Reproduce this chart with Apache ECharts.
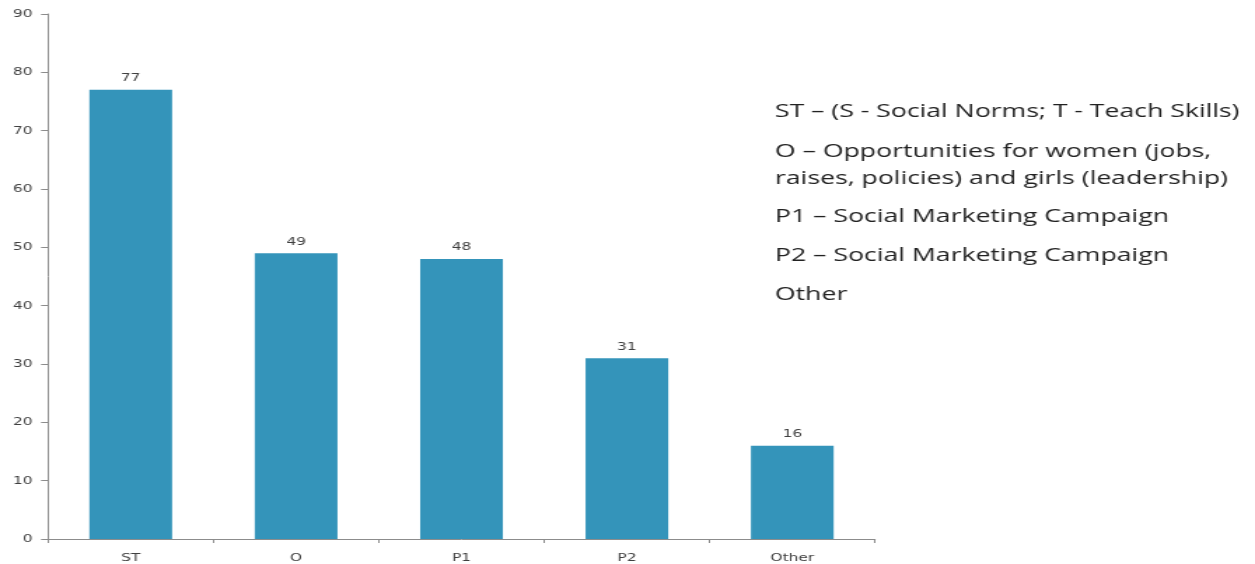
<!DOCTYPE html>
<html><head><meta charset="utf-8">
<script src="https://cdn.jsdelivr.net/npm/echarts@6/dist/echarts.min.js"></script>
<style>
html,body{margin:0;padding:0;background:#fff;overflow:hidden}
#wrap{width:1255px;height:564px;overflow:hidden}
#c{width:896px;height:564px;transform:scaleX(1.40067);transform-origin:0 0}
</style>
</head><body><div id="wrap"><div id="c"></div></div>
<script>
const categories = ['ST', 'O', 'P1', 'P2', 'Other'];
const values = [77, 49, 48, 31, 16];
const legendLines = [
  'ST \u2013 (S - Social Norms; T - Teach Skills)',
  'O \u2013 Opportunities for women (jobs,',
  'raises, policies) and girls (leadership)',
  'P1 \u2013 Social Marketing Campaign',
  'P2 \u2013 Social Marketing Campaign',
  'Other'
];
const legendY = [112, 152, 179, 217, 256, 295];

const chart = echarts.init(document.getElementById('c'));
const lab = {color: '#404040', fontSize: 11, fontFamily: 'DejaVu Sans'};
chart.setOption({
  animation: false,
  grid: {left: 34.3, right: 271.3, top: 14, bottom: 25},
  xAxis: {
    type: 'category', data: categories,
    axisLine: {lineStyle: {color: '#8c8c8c', width: 1}},
    axisTick: {show: true, length: 4, lineStyle: {color: '#8c8c8c'}},
    axisLabel: Object.assign({margin: 14}, lab)
  },
  yAxis: {
    type: 'value', min: 0, max: 90, interval: 10,
    axisLine: {show: true, lineStyle: {color: '#8c8c8c', width: 1}},
    axisTick: {show: true, length: 5, lineStyle: {color: '#8c8c8c'}},
    splitLine: {show: false},
    axisLabel: Object.assign({margin: 11}, lab)
  },
  series: [{
    type: 'bar', data: values, barWidth: '50%',
    itemStyle: {color: '#3494BA'},
    label: Object.assign({show: true, position: 'top', distance: 6}, lab)
  }],
  graphic: legendLines.map((t, i) => ({
    type: 'text', x: 553.3, y: legendY[i],
    style: {text: t, fontSize: 19, fontFamily: 'Open Sans', fill: '#222', verticalAlign: 'middle', align: 'left'}
  }))
});
</script></body></html>
